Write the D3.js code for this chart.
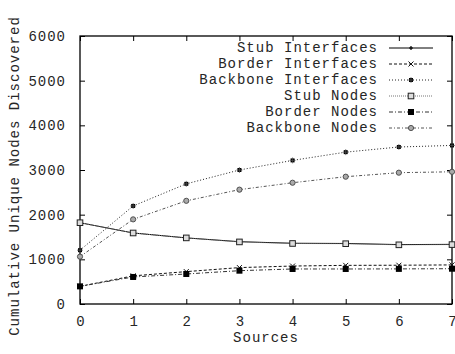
<!DOCTYPE html>
<html>
<head>
<meta charset="utf-8">
<script src="https://cdn.jsdelivr.net/npm/d3@7"></script>
<style>
  body { margin: 0; background: #fff; }
  text { font-family: "Liberation Mono", "DejaVu Sans Mono", monospace; font-size: 14px; letter-spacing: 1px; fill: #262626; }
</style>
</head>
<body>
<div id="chart"></div>
<script>
// data
var sources = [0, 1, 2, 3, 4, 5, 6, 7];
var stubInterfaces = [1820, 1590, 1480, 1395, 1360, 1355, 1330, 1335];
var borderInterfaces = [395, 630, 725, 815, 850, 865, 868, 875];
var backboneInterfaces = [1205, 2195, 2690, 3000, 3215, 3400, 3515, 3550];
var stubNodes = [1820, 1590, 1480, 1390, 1355, 1350, 1325, 1330];
var borderNodes = [395, 605, 672, 746, 784, 784, 786, 790];
var backboneNodes = [1060, 1895, 2310, 2560, 2715, 2850, 2940, 2960];
var seriesNames = ["Stub Interfaces", "Border Interfaces", "Backbone Interfaces",
  "Stub Nodes", "Border Nodes", "Backbone Nodes"];
var yTicks = [0, 1000, 2000, 3000, 4000, 5000, 6000];

var W = 455, H = 354;
var pLeft = 80, pRight = 452, pTop = 36, pBottom = 304;

var x = d3.scaleLinear().domain([0, 7]).range([pLeft, pRight]);
var y = d3.scaleLinear().domain([0, 6000]).range([pBottom, pTop]);

var svg = d3.select("#chart").append("svg")
  .attr("width", W)
  .attr("height", H);

// line styles per series
var styles = [
  {vals: stubInterfaces, color: "#000", dash: null, marker: "plus"},
  {vals: borderInterfaces, color: "#111", dash: "3,2", marker: "cross"},
  {vals: backboneInterfaces, color: "#222", dash: "1,2", marker: "star"},
  {vals: stubNodes, color: "#777", dash: "1,1", marker: "box"},
  {vals: borderNodes, color: "#333", dash: "4,2,1,2", marker: "fbox"},
  {vals: backboneNodes, color: "#555", dash: "3,2,1,2", marker: "circle"}
];

var line = d3.line()
  .x(function (d, i) { return x(sources[i]); })
  .y(function (d) { return y(d); });

function drawMarker(g, type, cx, cy, color) {
  if (type == "plus") {
    g.append("path").attr("d", "M" + (cx - 2) + "," + cy + "H" + (cx + 2) + "M" + cx + "," + (cy - 2) + "V" + (cy + 2))
      .attr("stroke", color).attr("stroke-width", 1.2);
  } else if (type == "cross") {
    g.append("path").attr("d", "M" + (cx - 2.5) + "," + (cy - 2.5) + "L" + (cx + 2.5) + "," + (cy + 2.5) +
      "M" + (cx - 2.5) + "," + (cy + 2.5) + "L" + (cx + 2.5) + "," + (cy - 2.5))
      .attr("stroke", color).attr("stroke-width", 1);
  } else if (type == "star") {
    g.append("rect").attr("x", cx - 2).attr("y", cy - 2).attr("width", 4).attr("height", 4)
      .attr("fill", "#000");
    g.append("path").attr("d", "M" + (cx - 3) + "," + cy + "H" + (cx + 3) + "M" + cx + "," + (cy - 3) + "V" + (cy + 3))
      .attr("stroke", "#555").attr("stroke-width", 0.7);
  } else if (type == "box") {
    g.append("rect").attr("x", cx - 2.8).attr("y", cy - 2.8).attr("width", 5.6).attr("height", 5.6)
      .attr("fill", "#ddd").attr("stroke", "#222").attr("stroke-width", 1);
  } else if (type == "fbox") {
    g.append("rect").attr("x", cx - 3).attr("y", cy - 3).attr("width", 6).attr("height", 6)
      .attr("fill", "#000");
  } else if (type == "circle") {
    g.append("circle").attr("cx", cx).attr("cy", cy).attr("r", 2.6)
      .attr("fill", "#aaa").attr("stroke", "#444").attr("stroke-width", 0.9);
  }
}

// frame
svg.append("rect")
  .attr("x", pLeft).attr("y", pTop)
  .attr("width", pRight - pLeft).attr("height", pBottom - pTop)
  .attr("fill", "none").attr("stroke", "#000").attr("stroke-width", 1.3);

// axes with inward ticks, mirrored on top and right
svg.append("g")
  .attr("transform", "translate(0," + pBottom + ")")
  .call(d3.axisBottom(x).tickValues(sources).tickFormat(d3.format("d"))
    .tickSizeInner(-5).tickSizeOuter(0).tickPadding(12))
  .call(function (g) { g.select(".domain").remove(); });
svg.append("g")
  .attr("transform", "translate(0," + pTop + ")")
  .call(d3.axisTop(x).tickValues(sources).tickSizeInner(-5).tickSizeOuter(0).tickFormat(""))
  .call(function (g) { g.select(".domain").remove(); });
svg.append("g")
  .attr("transform", "translate(" + pLeft + ",0)")
  .call(d3.axisLeft(y).tickValues(yTicks).tickFormat(d3.format("d"))
    .tickSizeInner(-5).tickSizeOuter(0).tickPadding(14))
  .call(function (g) { g.select(".domain").remove(); });
svg.append("g")
  .attr("transform", "translate(" + pRight + ",0)")
  .call(d3.axisRight(y).tickValues(yTicks).tickSizeInner(-5).tickSizeOuter(0).tickFormat(""))
  .call(function (g) { g.select(".domain").remove(); });

svg.selectAll(".tick text")
  .attr("font-family", null).attr("font-size", null);
// letter-spacing leaves a trailing gap, nudge centred labels back
svg.selectAll(".tick text").filter(function () { return d3.select(this).attr("dy") == "0.71em"; })
  .attr("dx", "0.5");
svg.selectAll(".tick line").attr("stroke", "#000");

// axis titles
svg.append("text")
  .attr("x", (pLeft + pRight) / 2).attr("y", 342)
  .attr("text-anchor", "middle")
  .text("Sources");
svg.append("text")
  .attr("transform", "translate(19,176) rotate(-90)")
  .attr("text-anchor", "middle")
  .text("Cumulative Unique Nodes Discovered");

// series
styles.forEach(function (s) {
  var g = svg.append("g");
  g.append("path")
    .datum(s.vals)
    .attr("d", line)
    .attr("fill", "none")
    .attr("stroke", s.color)
    .attr("stroke-width", 1)
    .attr("stroke-dasharray", s.dash);
  s.vals.forEach(function (v, i) {
    drawMarker(g, s.marker, x(sources[i]), y(v), s.color);
  });
});

// legend
var legend = svg.append("g");
seriesNames.forEach(function (name, i) {
  var ly = 48 + i * 16;
  legend.append("text")
    .attr("x", 378).attr("y", ly + 4)
    .attr("text-anchor", "end")
    .text(name);
  legend.append("line")
    .attr("x1", 389).attr("x2", 433)
    .attr("y1", ly).attr("y2", ly)
    .attr("stroke", styles[i].color)
    .attr("stroke-width", 1)
    .attr("stroke-dasharray", styles[i].dash);
  drawMarker(legend, styles[i].marker, 411, ly, styles[i].color);
});
</script>
</body>
</html>
